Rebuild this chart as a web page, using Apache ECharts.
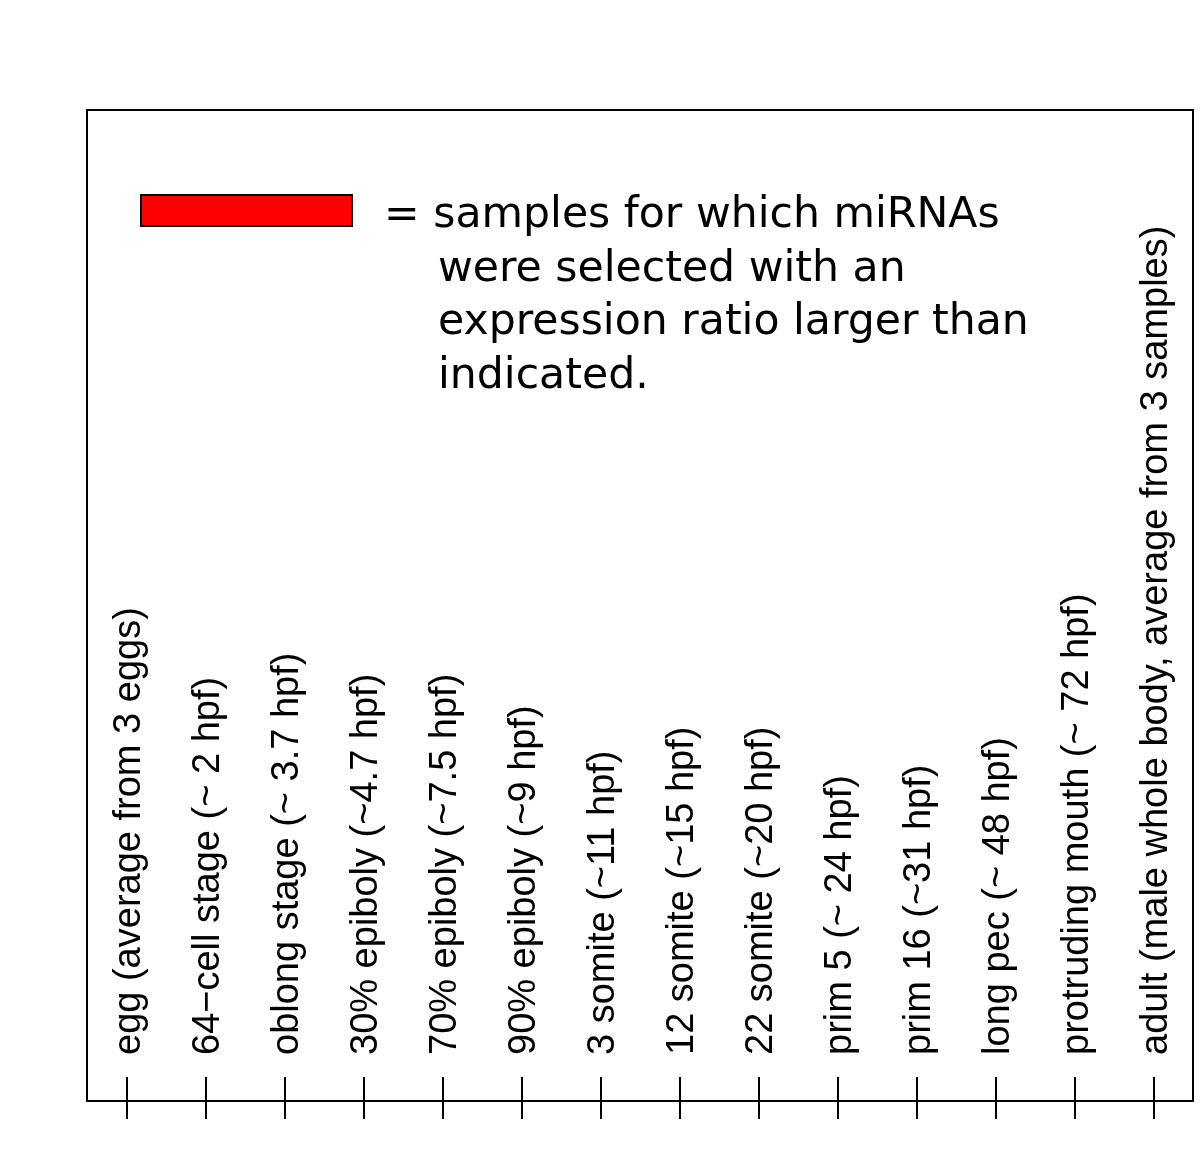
<!DOCTYPE html>
<html><head><meta charset="utf-8">
<script src="https://cdn.jsdelivr.net/npm/echarts@6/dist/echarts.min.js"></script>
<style>html,body{margin:0;padding:0;background:#fff}#c{width:1200px;height:1176px}</style>
</head><body><div id="c"></div>
<script>
const stages = [
  "egg (average from 3 eggs)",
  "64\u2212cell stage (~ 2 hpf)",
  "oblong stage (~ 3.7 hpf)",
  "30% epiboly (~4.7 hpf)",
  "70% epiboly (~7.5 hpf)",
  "90% epiboly (~9 hpf)",
  "3 somite (~11 hpf)",
  "12 somite (~15 hpf)",
  "22 somite (~20 hpf)",
  "prim 5 (~ 24 hpf)",
  "prim 16 (~31 hpf)",
  "long pec (~ 48 hpf)",
  "protruding mouth (~ 72 hpf)",
  "adult (male whole body, average from 3 samples)"
];
const legendLine = "= samples for which miRNAs";
const legendRest = ["were selected with an", "expression ratio larger than", "indicated."];
const seriesValues = [];

const chart = echarts.init(document.getElementById('c'), null, {renderer: 'canvas'});
chart.setOption({
  backgroundColor: '#ffffff',
  animation: false,
  grid: {left: 87, top: 110, right: 7, bottom: 75, show: true, borderColor: '#000', borderWidth: 2, backgroundColor: 'transparent'},
  title: {
    text: legendRest.join('\n'), left: 433, top: 238,
    textStyle: {fontFamily: 'DejaVu Sans', fontSize: 42.6, fontWeight: 'normal', color: '#000', lineHeight: 53.5}
  },
  legend: {
    left: 135, top: 189, itemWidth: 211, itemHeight: 31,
    icon: 'rect',
    itemStyle: {borderColor: '#000', borderWidth: 2},
    formatter: function (name) { return '{a|' + name + '}'; },
    textStyle: {
      fontFamily: 'DejaVu Sans', fontSize: 42.6, color: '#000', padding: [0, 0, 0, 27],
      rich: {a: {fontFamily: 'DejaVu Sans', fontSize: 42.6, color: '#000', padding: [10, 0, 0, 0]}}
    },
    data: [legendLine]
  },
  xAxis: [
    {
      type: 'category', data: stages, position: 'bottom',
      axisLine: {show: true, lineStyle: {color: '#000', width: 2}},
      axisTick: {show: true, inside: true, length: 24, interval: 0, alignWithLabel: true, lineStyle: {color: '#000', width: 2}},
      axisLabel: {show: true, inside: true, rotate: 90, margin: 46, interval: 0, color: '#000', fontFamily: 'Liberation Sans', fontSize: 38, verticalAlign: 'top', lineHeight: 6},
      splitLine: {show: false}
    },
    {
      type: 'category', data: stages, position: 'bottom',
      axisLine: {show: false},
      axisTick: {show: true, inside: false, length: 18, interval: 0, alignWithLabel: true, lineStyle: {color: '#000', width: 2}},
      axisLabel: {show: false},
      splitLine: {show: false}
    }
  ],
  yAxis: {type: 'value', min: 0, max: 1, show: false},
  series: [
    {name: legendLine, type: 'bar', data: seriesValues, itemStyle: {color: '#ff0000'}}
  ]
});
</script>
</body></html>
